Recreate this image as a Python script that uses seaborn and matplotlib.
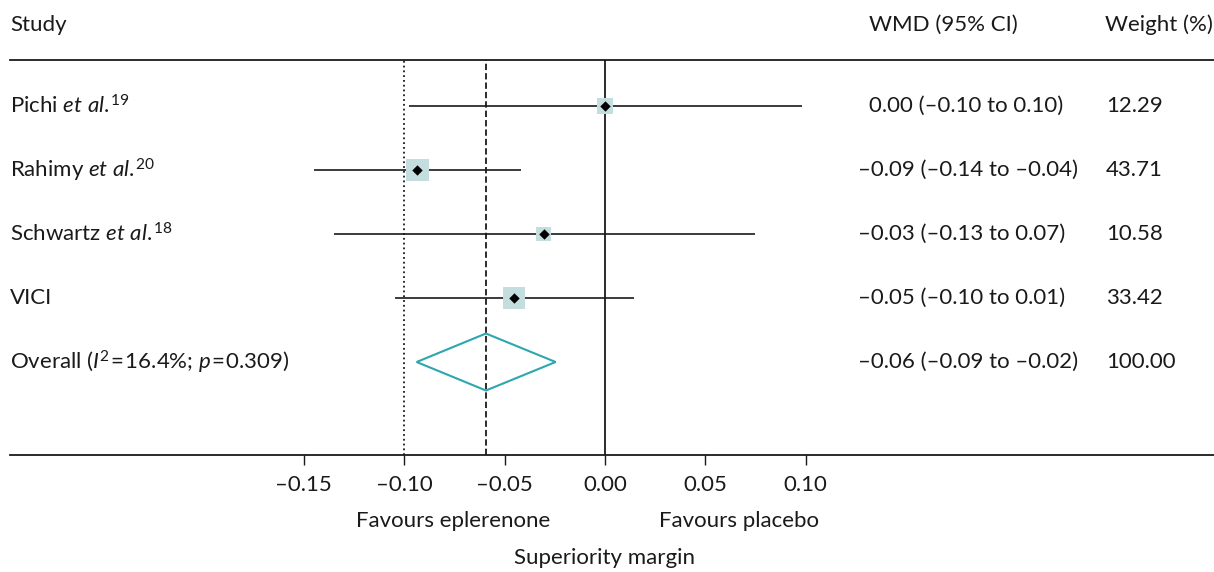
import matplotlib
matplotlib.use("Agg")
import matplotlib.pyplot as plt
import matplotlib.transforms as mtransforms
from matplotlib.ticker import FixedLocator, FuncFormatter
import numpy as np
import pandas as pd
import seaborn as sns

# ---- data ----
studies = ["Pichi $\\mathit{et\\ al.}^{\\!19}$",
           "Rahimy $\\mathit{et\\ al.}^{\\!20}$",
           "Schwartz $\\mathit{et\\ al.}^{\\!18}$",
           "VICI"]
wmd = [0.0, -0.0936, -0.0304, -0.0453]
ci_low = [-0.0976, -0.1449, -0.1349, -0.1047]
ci_high = [0.0980, -0.0418, 0.0749, 0.0144]
weights = [12.29, 43.71, 10.58, 33.42]

overall_label = "Overall ($\\mathit{I}^{2}$\u200a=\u200a16.4%; $\\mathit{p}$\u200a=\u200a0.309)"
overall_est = -0.0593
overall_low = -0.0938
overall_high = -0.0246
overall_weight = 100.00

margin = -0.10
xticks = [-0.15, -0.10, -0.05, 0.00, 0.05, 0.10]

# ---- style ----
sns.set_theme(style="white")
plt.rcParams["font.family"] = ["Lato", "DejaVu Sans"]
plt.rcParams["mathtext.fontset"] = "custom"
plt.rcParams["mathtext.rm"] = "Lato"
plt.rcParams["mathtext.it"] = "Lato:italic"
plt.rcParams["mathtext.bf"] = "Lato:bold"

INK = "#1a1a1a"
SQUARE = "#c4dee0"
TEAL = "#2ba7ae"
FS = 16

W, H, DPI = 1214, 572, 100
fig = plt.figure(figsize=(W / DPI, H / DPI), dpi=DPI)

# axes box: top spine is the header rule, bottom spine is the x axis
ax_left, ax_right, ax_top, ax_bottom = 10, 1214, 60, 455
ax = fig.add_axes([ax_left / W, (H - ax_bottom) / H,
                   (ax_right - ax_left) / W, (ax_bottom - ax_top) / H])

px_per_unit = 2008.0
zero_px = 605.0
ax.set_xlim((ax_left - zero_px) / px_per_unit, (ax_right - zero_px) / px_per_unit)
row_px0, row_step = 106.0, 64.0
ax.set_ylim((ax_bottom - row_px0) / row_step, (ax_top - row_px0) / row_step)

for s in ["left", "right"]:
    ax.spines[s].set_visible(False)
for s in ["top", "bottom"]:
    ax.spines[s].set_color(INK)
    ax.spines[s].set_linewidth(1.3)
ax.set_yticks([])
ax.xaxis.set_major_locator(FixedLocator(xticks))
ax.xaxis.set_major_formatter(FuncFormatter(lambda v, p: f"{v:.2f}".replace("-", "\u2013")))
ax.tick_params(axis="x", direction="out", length=7.2, width=1, color=INK,
               labelsize=FS, labelcolor=INK, pad=7.5, bottom=True)
ax.grid(False)

rows = np.arange(len(studies))

# reference lines
ax.axvline(0, color=INK, lw=1.3, zorder=1)
ax.axvline(margin, color=INK, lw=1.3, ls=":", zorder=1)
ax.axvline(overall_est, color=INK, lw=1.3, ls=(0, (3.5, 1.7)), zorder=1)

# confidence intervals
ax.hlines(rows, ci_low, ci_high, color=INK, lw=1.2, zorder=2)

# weight squares and point estimates
df = pd.DataFrame({"wmd": wmd, "row": rows, "w": weights})
side_pt = 7.39 * 0.72 * np.power(df["w"].to_numpy(), 0.3)
sns.scatterplot(data=df, x="wmd", y="row", marker="s", s=side_pt ** 2,
                color=SQUARE, linewidth=0, ax=ax, zorder=3, legend=False)
sns.scatterplot(data=df, x="wmd", y="row", marker="D", s=5.3 ** 2,
                color="black", linewidth=0, ax=ax, zorder=4, legend=False)

# pooled estimate diamond
orow = len(studies)
half_h = 28.5 / row_step
ax.fill([overall_low, overall_est, overall_high, overall_est, overall_low],
        [orow, orow - half_h, orow, orow + half_h, orow],
        facecolor="none", edgecolor=TEAL, lw=1.5, zorder=3)
ax.set_xlabel("")
ax.set_ylabel("")

# ---- text columns ----
def px(x):
    return x / DPI

def py(y):
    return (H - y) / DPI

row_tr = mtransforms.blended_transform_factory(fig.dpi_scale_trans, ax.transData)
fig_tr = fig.dpi_scale_trans
bot_tr = mtransforms.blended_transform_factory(ax.transData, fig.dpi_scale_trans)

def fmt(v):
    return f"{v:.2f}".replace("-", "\u2013")

# header
fig.text(px(10), py(25), "Study", transform=fig_tr, fontsize=FS, color=INK,
         ha="left", va="center")
fig.text(px(869), py(25), "WMD (95% CI)", transform=fig_tr, fontsize=FS, color=INK,
         ha="left", va="center")
fig.text(px(1105), py(25), "Weight (%)", transform=fig_tr, fontsize=FS, color=INK,
         ha="left", va="center")

labels = studies + [overall_label]
ests = wmd + [overall_est]
lows = ci_low + [overall_low]
highs = ci_high + [overall_high]
wts = weights + [overall_weight]
for i, (lab, e, lo, hi, w) in enumerate(zip(labels, ests, lows, highs, wts)):
    ax.text(px(10), i, lab, transform=row_tr, fontsize=FS, color=INK,
            ha="left", va="center")
    txt = f"{fmt(e)} ({fmt(lo)} to {fmt(hi)})"
    xs = 869 if not fmt(e).startswith("\u2013") else 858
    ax.text(px(xs), i, txt, transform=row_tr, fontsize=FS, color=INK,
            ha="left", va="center")
    ax.text(px(1106), i, f"{w:.2f}", transform=row_tr, fontsize=FS, color=INK,
            ha="left", va="center")

# direction labels and axis title
ax.text(-0.0757, py(521), "Favours eplerenone", transform=bot_tr, fontsize=FS,
        color=INK, ha="center", va="center")
ax.text(0.0667, py(521), "Favours placebo", transform=bot_tr, fontsize=FS,
        color=INK, ha="center", va="center")
ax.text(0.0, py(558), "Superiority margin", transform=bot_tr, fontsize=FS,
        color=INK, ha="center", va="center")

fig.savefig("out.png", dpi=DPI)
